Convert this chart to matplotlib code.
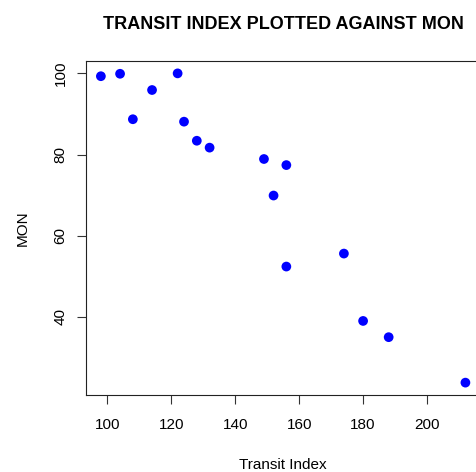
import matplotlib
matplotlib.use("Agg")
import matplotlib.pyplot as plt

transit_index = [98, 104, 108, 114, 122, 124, 128, 132, 149, 152, 156, 156, 174, 180, 188, 212]
mon = [99.3, 99.9, 88.7, 95.9, 100.0, 88.1, 83.4, 81.7, 78.9, 69.9, 77.4, 52.4, 55.6, 39.0, 35.0, 23.8]
x_ticks = [100, 120, 140, 160, 180, 200]
y_ticks = [40, 60, 80, 100]

plt.rcParams['font.family'] = ['Liberation Sans', 'DejaVu Sans']

W, H = 476, 472
fig = plt.figure(figsize=(W / 100, H / 100), dpi=100)
left, right, bottom, top = 86.3, 480.0, 395.0, 61.0
ax = fig.add_axes([left / W, (H - bottom) / H, (right - left) / W, (bottom - top) / H])

ax.scatter(transit_index, mon, s=7.0 ** 2, color='#0000ff', edgecolors='none', zorder=3, clip_on=True)

xr = max(transit_index) - min(transit_index)
yr = max(mon) - min(mon)
ax.set_xlim(min(transit_index) - 0.04 * xr, max(transit_index) + 0.04 * xr)
ax.set_ylim(min(mon) - 0.04 * yr, max(mon) + 0.04 * yr)

ax.set_xticks(x_ticks)
ax.set_yticks(y_ticks)
ax.set_xticklabels([str(v) for v in x_ticks])
ax.set_yticklabels([str(v) for v in y_ticks], rotation=90, va='center')
ax.tick_params(axis='both', direction='out', length=6.5, width=0.8, color='#333333',
               labelsize=11, pad=10)
ax.tick_params(axis='y', pad=7)
for s in ax.spines.values():
    s.set_linewidth(0.8)
    s.set_color('#222222')

ax.set_xlabel('Transit Index', fontsize=11, labelpad=19)
ax.set_ylabel('MON', fontsize=11, labelpad=17)
ax.set_title('TRANSIT INDEX PLOTTED AGAINST MON', fontsize=13, fontweight='bold', pad=23)

fig.savefig('out.png', dpi=100, facecolor='white')
